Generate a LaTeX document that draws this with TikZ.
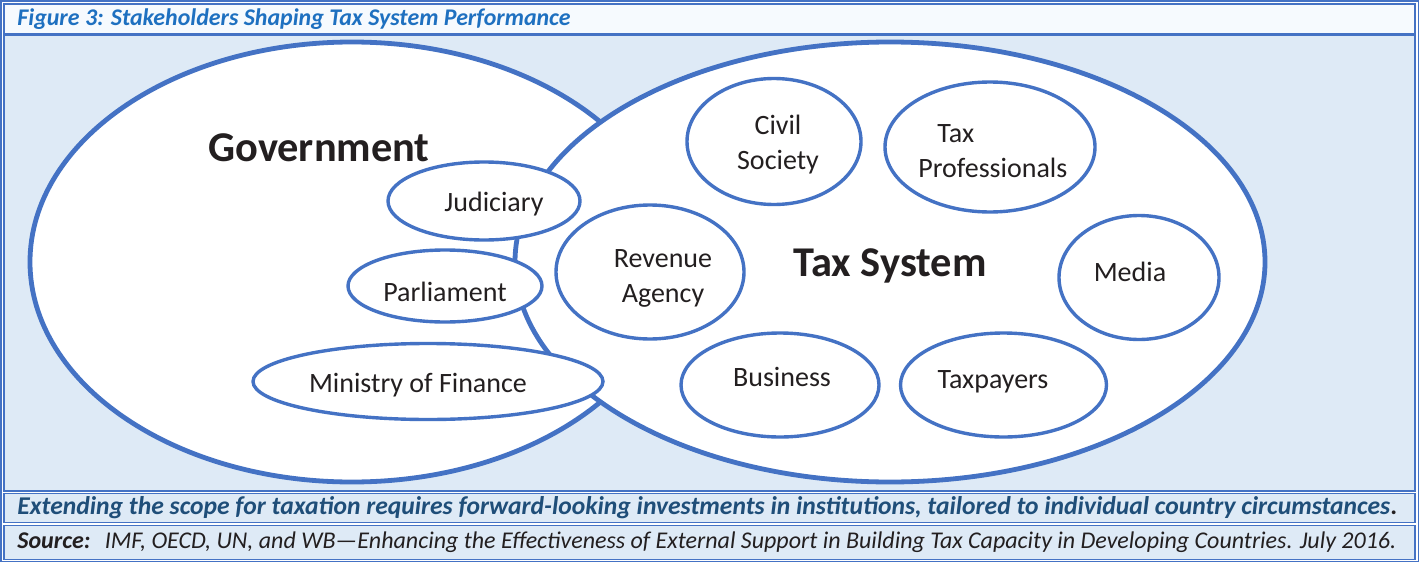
\documentclass[tikz,border=0pt]{standalone}
\usepackage{fontspec}
\setmainfont{Carlito}
\usepackage{xcolor}
\usepackage{tikz}
\usetikzlibrary{shapes,shapes.geometric}
\usetikzlibrary{backgrounds}
\pgfdeclarelayer{edgelayer}
\pgfdeclarelayer{nodelayer}
\pgfsetlayers{background,edgelayer,nodelayer,main}
\definecolor{frameblue}{RGB}{68,114,196}
\definecolor{panelblue}{RGB}{222,234,246}
\definecolor{titlewhite}{RGB}{246,250,254}
\definecolor{titleblue}{RGB}{30,112,192}
\definecolor{capblue}{RGB}{31,78,121}
\definecolor{inkblack}{RGB}{35,31,32}
\tikzstyle{none}=[inner sep=0mm]
\tikzstyle{box}=[draw=frameblue,line width=0.75pt]
\tikzstyle{big oval}=[shape=ellipse,draw=frameblue,fill=white,line width=2.4pt,inner sep=0pt]
\tikzstyle{oval}=[shape=ellipse,draw=frameblue,fill=white,line width=1.7pt,inner sep=0pt]
\tikzstyle{tag}=[none,align=center,text=inkblack,font=\fontsize{14}{17.5}\selectfont]
\tikzstyle{big tag}=[none,text=inkblack,font=\fontsize{21.2}{25}\selectfont\bfseries]
\tikzstyle{row text}=[none,anchor=west,font=\fontsize{12}{14}\selectfont\itshape]

\begin{document}
\begin{tikzpicture}[x=0.5pt,y=-0.5pt]
	\useasboundingbox (0,0) rectangle (1419,562);
	\begin{pgfonlayer}{background}
		% frame, heading bar, panel and the two footer rows
		\fill [white] (0,0) rectangle (1419,562);
		\draw [style=box] (0.75,0.75) rectangle (1418.25,561.25);
		\draw [style=box,fill=titlewhite] (3.75,3.75) rectangle (1414.75,34);
		\draw [style=box,fill=panelblue] (3.75,35.5) rectangle (1414.75,491);
		\draw [frameblue,line width=1.5pt] (3,34.5) -- (1415.5,34.5);
		\draw [style=box,fill=panelblue] (3.75,493.5) rectangle (1414.75,522.5);
		\draw [style=box,fill=panelblue] (3.75,525.5) rectangle (1414.75,559.5);
	\end{pgfonlayer}
	\begin{pgfonlayer}{edgelayer}
		\node [style=big oval,minimum width=322pt,minimum height=220pt] (gov) at (352, 262) {};
		\node [style=big oval,minimum width=375pt,minimum height=220pt] (taxsys) at (890, 262) {};
	\end{pgfonlayer}
	\begin{pgfonlayer}{nodelayer}
		\node [style=oval,minimum width=96pt,minimum height=39pt] (jud) at (484, 201) {};
		\node [style=oval,minimum width=97pt,minimum height=36pt] (parl) at (445, 286) {};
		\node [style=oval,minimum width=175pt,minimum height=38pt] (mof) at (428, 381.5) {};
		\node [style=oval,minimum width=94pt,minimum height=67pt] (rev) at (650, 272) {};
		\node [style=oval,minimum width=87pt,minimum height=63pt] (civ) at (774, 141.5) {};
		\node [style=oval,minimum width=105pt,minimum height=65pt] (pro) at (990, 147) {};
		\node [style=oval,minimum width=80pt,minimum height=62pt] (med) at (1139, 277.5) {};
		\node [style=oval,minimum width=99pt,minimum height=52pt] (bus) at (780, 385) {};
		\node [style=oval,minimum width=103pt,minimum height=52pt] (tpy) at (1003.5, 385) {};

		\node [style=big tag] (govtxt) at (319, 148) {Government};
		\node [style=big tag] (taxtxt) at (890, 266) {Tax System};
		\node [style=tag] (judtxt) at (494, 204) {Judiciary};
		\node [style=tag] (parltxt) at (445, 292) {Parliament};
		\node [style=tag] (moftxt) at (418, 385) {Ministry of Finance};
		\node [style=tag] (revtxt) at (663, 278) {Revenue\\Agency};
		\node [style=tag] (civtxt) at (778, 145) {Civil\\Society};
		\node [style=tag,anchor=west,align=left] (protxt) at (918, 151) {\hspace*{9.5pt}Tax\\Professionals};
		\node [style=tag] (medtxt) at (1130, 272) {Media};
		\node [style=tag] (bustxt) at (782, 377) {Business};
		\node [style=tag] (tpytxt) at (993, 382) {Taxpayers};

		% heading and footer rows
		\node [style=row text,text=titleblue,font=\fontsize{11.95}{14}\selectfont\bfseries\itshape] (head) at (17, 19) {Figure 3: Stakeholders Shaping Tax System Performance};
		\node [style=row text,text=capblue,font=\fontsize{12.8}{15}\selectfont\bfseries\itshape] (cap) at (17, 508) {Extending the scope for taxation requires forward-looking investments in institutions, tailored to individual country circumstances{\color{inkblack}\upshape .}};
		\node [style=row text,text=inkblack] (src) at (17, 542) {{\bfseries Source:}\hspace{0.6em}IMF, OECD, UN, and WB---Enhancing the Effectiveness of External Support in Building Tax Capacity in Developing Countries. July 2016.};
	\end{pgfonlayer}
\end{tikzpicture}
\end{document}
